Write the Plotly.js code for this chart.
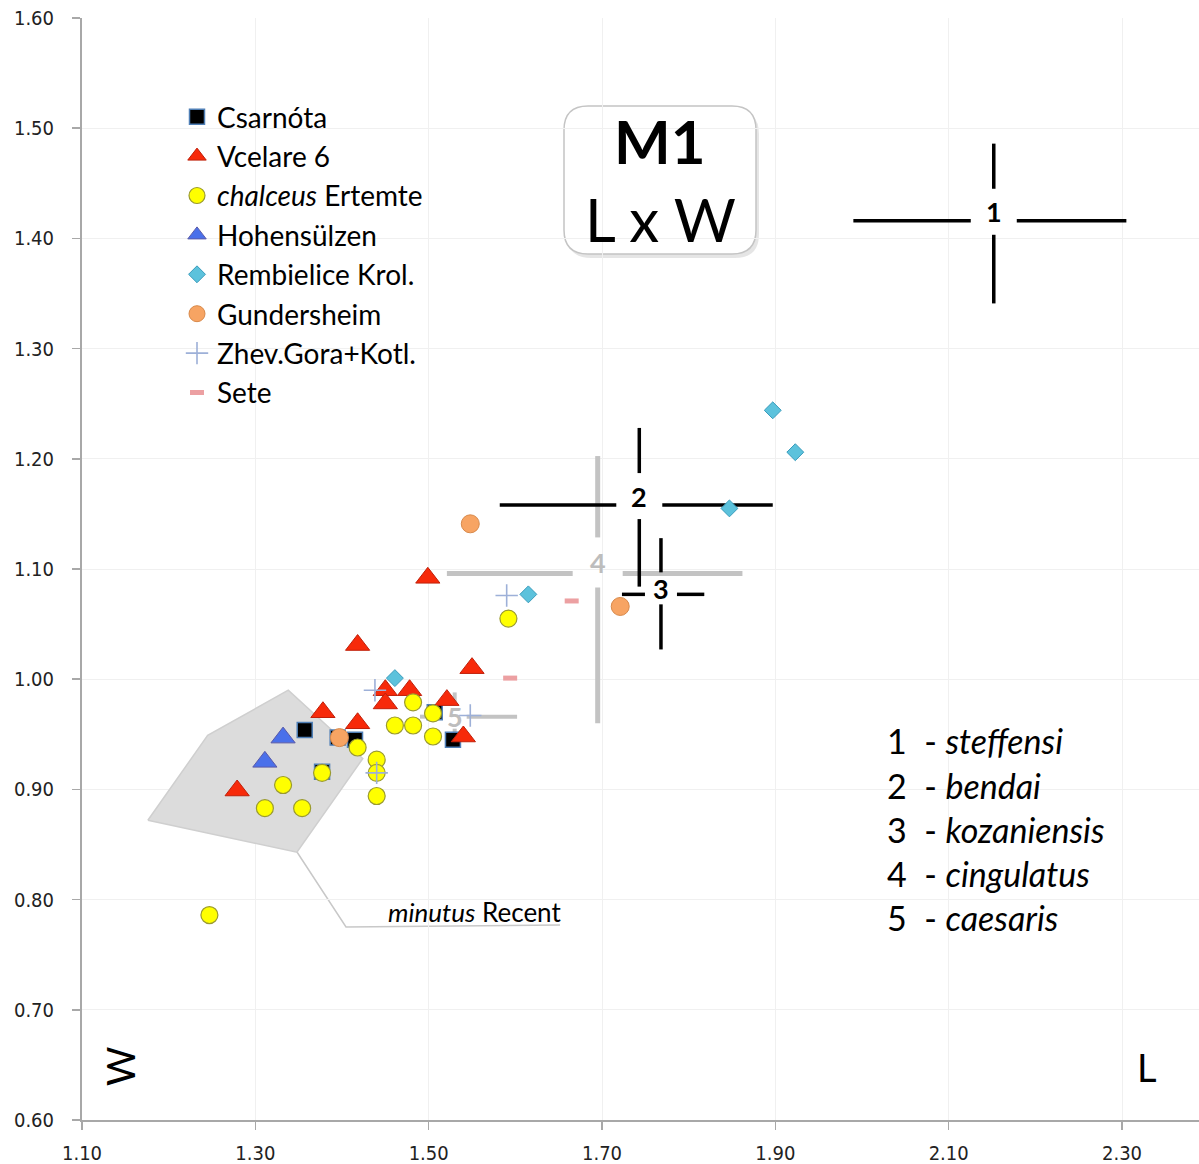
<!DOCTYPE html>
<html>
<head>
<meta charset="utf-8">
<script src="https://cdn.plot.ly/plotly-3.0.1.min.js"></script>
<style>html,body{margin:0;padding:0;background:#fff;}#chart{width:1199px;height:1164px;}</style>
</head>
<body>
<div id="chart"></div>
<script>
// ---------------- DATA ----------------
const xTicks = [1.10, 1.30, 1.50, 1.70, 1.90, 2.10, 2.30];
const yTicks = [0.60, 0.70, 0.80, 0.90, 1.00, 1.10, 1.20, 1.30, 1.40, 1.50, 1.60];

const csarnotaL = [1.357, 1.395, 1.415, 1.377, 1.507, 1.528];
const csarnotaW = [0.954, 0.947, 0.945, 0.916, 0.970, 0.945];

const vcelareL = [1.279, 1.378, 1.418, 1.418, 1.499, 1.450, 1.450, 1.478, 1.521, 1.550, 1.540];
const vcelareW = [0.899, 0.970, 0.960, 1.031, 1.092, 0.990, 0.978, 0.990, 0.981, 1.010, 0.948];

const chalceusL = [1.482, 1.505, 1.461, 1.482, 1.505, 1.418, 1.440, 1.440, 1.440, 1.377, 1.332, 1.311, 1.354, 1.247, 1.592];
const chalceusW = [0.979, 0.969, 0.958, 0.958, 0.948, 0.938, 0.927, 0.915, 0.894, 0.915, 0.904, 0.883, 0.883, 0.786, 1.055];

const hohenL = [1.332, 1.311];
const hohenW = [0.947, 0.925];

const rembL = [1.897, 1.923, 1.847, 1.615, 1.461];
const rembW = [1.244, 1.206, 1.155, 1.077, 1.001];

const gundL = [1.548, 1.721, 1.397];
const gundW = [1.141, 1.066, 0.947];

const zhevL = [1.590, 1.440, 1.438, 1.548];
const zhevW = [1.076, 0.915, 0.990, 0.967];

const seteL = [1.665, 1.594];
const seteW = [1.071, 1.001];

// minutus Recent (convex outline)
const minutusL = [1.176, 1.245, 1.338, 1.424, 1.348];
const minutusW = [0.872, 0.949, 0.990, 0.928, 0.843];

// species reference crosses: mean and range of L and W
const crossId   = [1, 2, 3, 4, 5];
const crossName = ["steffensi", "bendai", "kozaniensis", "cingulatus", "caesaris"];
const crossL    = [2.152, 1.743, 1.768, 1.695, 1.530];
const crossLmin = [1.990, 1.582, 1.723, 1.521, 1.490];
const crossLmax = [2.305, 1.897, 1.818, 1.862, 1.602];
const crossW    = [1.416, 1.158, 1.077, 1.096, 0.966];
const crossWmin = [1.341, 1.084, 1.027, 0.960, 0.940];
const crossWmax = [1.486, 1.228, 1.128, 1.2025, 0.988];

// ---------------- STYLE / LAYOUT ----------------
const W = 1199, H = 1164;
const M = {l: 82, r: 0, t: 18, b: 44};
const plotW = W - M.l - M.r, plotH = H - M.t - M.b;
const xRange = [1.10, 1.10 + plotW / 866.7];
const yRange = [0.60, 1.60];
const pxX = plotW / (xRange[1] - xRange[0]);
const pxY = plotH / (yRange[1] - yRange[0]);
const px = v => (v - M.l) / plotW;          // pixel -> paper x
const py = v => (H - M.b - v) / plotH;      // pixel -> paper y

const crossColor = ["#000000", "#000000", "#000000", "#c3c3c3", "#c3c3c3"];
const crossWidth = [3.5, 3.5, 3.5, 5, 4];
const crossGap   = [23, 23, 16, 25, 12];    // px gap around label
const crossLabShift = [9, 9, 6, 11, 0];     // label above crossing, px

const FONT = "Lato, 'Open Sans', sans-serif";
const traces = [];

// minutus polygon
traces.push({
  x: minutusL.concat([minutusL[0]]), y: minutusW.concat([minutusW[0]]),
  mode: "lines", fill: "toself", fillcolor: "#dcdcdc",
  line: {color: "#cfcfcf", width: 1.5}, hoverinfo: "skip", showlegend: false
});

// crosses: grey first, then black
const crossOrder = [3, 4, 0, 1, 2];
crossOrder.forEach(i => {
  const gL = crossGap[i] / pxX, gW = crossGap[i] / pxY;
  const wLab = crossW[i] + crossLabShift[i] / pxY;
  const xs = [crossLmin[i], crossL[i] - gL, null, crossL[i] + gL, crossLmax[i], null,
              crossL[i], crossL[i], null, crossL[i], crossL[i]];
  const ys = [crossW[i], crossW[i], null, crossW[i], crossW[i], null,
              crossWmax[i], wLab + gW, null, wLab - gW, crossWmin[i]];
  traces.push({x: xs, y: ys, mode: "lines", line: {color: crossColor[i], width: crossWidth[i]},
               hoverinfo: "skip", showlegend: false, connectgaps: false});
});

function series(name, xs, ys, marker, grp) {
  return {x: xs, y: ys, name: name, mode: "markers", marker: marker, legendgroup: grp,
          type: "scatter"};
}
traces.push(series("Csarnóta", csarnotaL, csarnotaW,
  {symbol: "square", size: 15, color: "#000000", line: {color: "#4f7fb6", width: 1.5}}, "g1"));
traces.push(series("Vcelare 6", vcelareL, vcelareW,
  {symbol: "triangle-up", size: 21, color: "#f72a0a", line: {color: "#c0200a", width: 1}}, "g2"));
traces.push(series("<i>chalceus</i> Ertemte", chalceusL, chalceusW,
  {symbol: "circle", size: 17, color: "#ffff00", line: {color: "#9a9a30", width: 1.2}}, "g3"));
traces.push(series("Hohensülzen", hohenL, hohenW,
  {symbol: "triangle-up", size: 21, color: "#4a70ea", line: {color: "#5a5aa8", width: 1}}, "g4"));
traces.push(series("Rembielice Krol.", rembL, rembW,
  {symbol: "diamond", size: 13, color: "#5cc2dc", line: {color: "#3a9cbc", width: 1}}, "g5"));
traces.push(series("Gundersheim", gundL, gundW,
  {symbol: "circle", size: 18, color: "#f7a463", line: {color: "#d8894a", width: 1}}, "g6"));
traces.push(series("Zhev.Gora+Kotl.", zhevL, zhevW,
  {symbol: "cross-thin", size: 16, color: "#9db0d8", line: {color: "#9db0d8", width: 1.6}}, "g7"));
traces.push(series("Sete", seteL, seteW,
  {symbol: "line-ew", size: 10, color: "#f0a0a0", line: {color: "#eca0a2", width: 5}}, "g8"));

// annotations
const annotations = [];
function paperText(x, y, text, size, extra) {
  return Object.assign({x: px(x), y: py(y), xref: "paper", yref: "paper",
    xanchor: "center", yanchor: "middle", showarrow: false, text: text,
    font: {family: FONT, size: size, color: "#000"}}, extra || {});
}
crossId.forEach((id, i) => {
  annotations.push({
    x: crossL[i], y: crossW[i], xref: "x", yref: "y", yshift: crossLabShift[i],
    xanchor: "center", yanchor: "middle",
    text: "<b>" + id + "</b>", showarrow: false,
    font: {family: FONT, size: 27, color: i < 3 ? "#000000" : "#bdbdbd"}
  });
  annotations.push(paperText(885, 741 + 44 * i, id + "\u00A0 - <i>" + crossName[i] + "</i>", 34,
    {xanchor: "left"}));
});
annotations.push(paperText(660, 141, "<b>M1</b>", 60));
annotations.push(paperText(660, 219, "L x W", 60));
annotations.push(paperText(563, 912, "<i>minutus</i> Recent", 26, {xanchor: "right"}));
annotations.push(paperText(120, 1067, "W", 38, {textangle: -90}));
annotations.push(paperText(1147, 1067, "L", 38));

// rounded box helper in pixel space -> paper path
function roundRect(x0, y0, x1, y1, r) {
  const P = (a, b) => px(a) + "," + py(b);
  return "M" + P(x0 + r, y0) + " L" + P(x1 - r, y0) + " Q" + P(x1, y0) + " " + P(x1, y0 + r) +
    " L" + P(x1, y1 - r) + " Q" + P(x1, y1) + " " + P(x1 - r, y1) +
    " L" + P(x0 + r, y1) + " Q" + P(x0, y1) + " " + P(x0, y1 - r) +
    " L" + P(x0, y0 + r) + " Q" + P(x0, y0) + " " + P(x0 + r, y0) + " Z";
}
const shapes = [
  {type: "path", xref: "paper", yref: "paper", path: roundRect(567, 110, 759, 258, 24),
   fillcolor: "rgba(0,0,0,0.10)", line: {width: 0}, layer: "below"},
  {type: "path", xref: "paper", yref: "paper", path: roundRect(564, 106, 756, 254, 24),
   fillcolor: "#ffffff", line: {color: "#c4c4c4", width: 1.5}, layer: "below"},
  {type: "path", xref: "paper", yref: "paper",
   path: "M" + px(297) + "," + py(852) + " L" + px(346) + "," + py(927) + " L" + px(560) + "," + py(925),
   line: {color: "#c8c8c8", width: 1.5}, layer: "below"}
];

const axisCommon = {
  showgrid: true, gridcolor: "#f0f0f0", gridwidth: 1, zeroline: false,
  showline: true, linecolor: "#a8a8a8", linewidth: 2,
  ticks: "outside", ticklen: 8, tickcolor: "#a8a8a8", tickwidth: 1.5,
  tickmode: "array", tickformat: ".2f",
  tickfont: {family: "'Liberation Sans Narrow', 'DejaVu Sans Condensed', Arial, sans-serif", size: 20, color: "#222"},
  fixedrange: true
};

const layout = {
  width: W, height: H, margin: {l: M.l, r: M.r, t: M.t, b: M.b, pad: 0},
  paper_bgcolor: "#ffffff", plot_bgcolor: "#ffffff",
  showlegend: true,
  legend: {x: px(177), y: py(92), xanchor: "left", yanchor: "top", bgcolor: "rgba(0,0,0,0)",
           font: {family: FONT, size: 28, color: "#000"}, tracegroupgap: 0, itemclick: false},
  xaxis: Object.assign({}, axisCommon, {range: xRange, tickvals: xTicks, ticklabelstandoff: 6}),
  yaxis: Object.assign({}, axisCommon, {range: yRange, tickvals: yTicks, ticklabelstandoff: 14}),
  annotations: annotations, shapes: shapes, hovermode: false
};

Plotly.newPlot("chart", traces, layout, {displayModeBar: false, staticPlot: true});
</script>
</body>
</html>
